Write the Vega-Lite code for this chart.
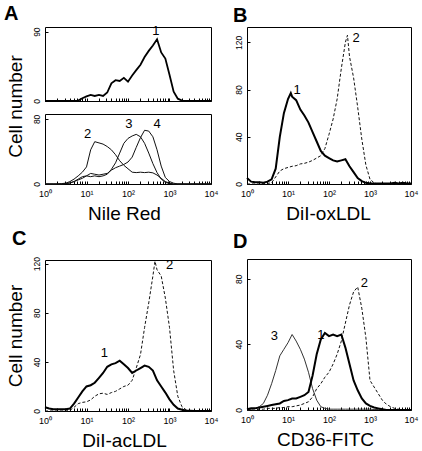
{
"$schema": "https://vega.github.io/schema/vega-lite/v6.json",
"padding": {"left": 3, "top": 3, "right": 0, "bottom": 0},
"autosize": {"type": "pad"},
"spacing": 13,
"datasets": {
"curves": [
{"x":1,"a1":0,"a2":0,"a3":0,"a4":0,"b1":5,"b2":0,"c1":3,"c2":0,"d1":0.5,"d2":0,"d3":0},
{"x":1.26,"a1":0,"a2":0,"a3":0,"a4":0,"b1":2,"b2":0,"c1":2,"c2":0,"d1":1,"d2":0,"d3":0.5},
{"x":1.58,"a1":0,"a2":0,"a3":0,"a4":0,"b1":1.5,"b2":0,"c1":1.5,"c2":0,"d1":1,"d2":0,"d3":1},
{"x":2,"a1":0,"a2":0,"a3":0,"a4":0,"b1":1.5,"b2":0,"c1":1.5,"c2":0,"d1":1.5,"d2":0.5,"d3":2},
{"x":2.51,"a1":0,"a2":0.5,"a3":0,"a4":0,"b1":1,"b2":0.3,"c1":1.5,"c2":0,"d1":2,"d2":0.5,"d3":4},
{"x":3.16,"a1":0,"a2":1,"a3":0.5,"a4":0.5,"b1":2,"b2":0.5,"c1":1.5,"c2":0,"d1":2.5,"d2":1,"d3":9},
{"x":3.98,"a1":0,"a2":3,"a3":1,"a4":1.5,"b1":4,"b2":1,"c1":2,"c2":0.5,"d1":3,"d2":1,"d3":16},
{"x":5.01,"a1":0,"a2":6,"a3":3,"a4":3,"b1":13,"b2":6,"c1":6,"c2":3,"d1":3.5,"d2":1,"d3":24},
{"x":6.31,"a1":0.5,"a2":10,"a3":6,"a4":5,"b1":40,"b2":11,"c1":11,"c2":6,"d1":4,"d2":1.5,"d3":33},
{"x":7.94,"a1":3.5,"a2":14.5,"a3":9,"a4":7,"b1":60,"b2":13,"c1":16,"c2":7,"d1":5.5,"d2":1.5,"d3":37},
{"x":10,"a1":6,"a2":21,"a3":10,"a4":10,"b1":72,"b2":14,"c1":20,"c2":7.5,"d1":6,"d2":2,"d3":41},
{"x":11.7,"b1":77},
{"x":12.6,"a1":8,"a2":42,"a3":9,"a4":13,"b1":74,"b2":15,"c1":21,"c2":9,"d1":7,"d2":2,"d3":46},
{"x":15.8,"a1":6.5,"a2":52,"a3":10,"a4":12,"b1":71,"b2":15.5,"c1":23,"c2":12,"d1":7,"d2":2.5,"d3":42},
{"x":20,"a1":8,"a2":50.5,"a3":9,"a4":11,"b1":63,"b2":17,"c1":27,"c2":14,"d1":8,"d2":3,"d3":37},
{"x":25.1,"a1":6.5,"a2":49,"a3":10,"a4":12,"b1":58,"b2":17.5,"c1":31,"c2":14.5,"d1":9,"d2":4,"d3":31},
{"x":31.6,"a1":11,"a2":46,"a3":12,"a4":13,"b1":52,"b2":18.5,"c1":36,"c2":13.5,"d1":11,"d2":5,"d3":23},
{"x":39.8,"a1":23,"a2":42,"a3":18,"a4":17,"b1":44,"b2":20,"c1":38,"c2":15,"d1":21,"d2":8,"d3":13},
{"x":50.1,"a1":27,"a2":36,"a3":26,"a4":20,"b1":36,"b2":22,"c1":39,"c2":16,"d1":34,"d2":13,"d3":6},
{"x":63.1,"a1":26,"a2":28.6,"a3":38,"a4":22,"b1":28,"b2":24,"c1":41,"c2":18,"d1":43,"d2":16,"d3":2},
{"x":79.4,"a1":30,"a2":23,"a3":50,"a4":24,"b1":24,"b2":30,"c1":38,"c2":20,"d1":47,"d2":20,"d3":1},
{"x":100,"a1":25,"a2":18.7,"a3":56,"a4":27,"b1":22,"b2":42,"c1":35,"c2":21,"d1":45,"d2":23,"d3":0.5},
{"x":126,"a1":33,"a2":14.5,"a3":59,"a4":33,"b1":20,"b2":55,"c1":31,"c2":25,"d1":46,"d2":28,"d3":0.5},
{"x":158,"a1":40,"a2":14,"a3":61,"a4":45,"b1":19,"b2":72,"c1":33,"c2":35,"d1":45,"d2":34,"d3":0.5},
{"x":200,"a1":47,"a2":14.5,"a3":58,"a4":57,"b1":20,"b2":98,"c1":35,"c2":46,"d1":46,"d2":42,"d3":0.5},
{"x":251,"a1":57,"a2":14,"a3":50,"a4":66,"b1":21,"b2":120,"c1":37,"c2":68,"d1":38,"d2":53,"d3":0.5},
{"x":282,"b2":126},
{"x":316,"a1":65,"a2":14.5,"a3":38,"a4":65,"b1":15,"b2":108,"c1":36,"c2":88,"d1":28,"d2":64,"d3":0.5},
{"x":398,"a1":72,"a2":13.7,"a3":25,"a4":58,"b1":10,"b2":90,"c1":33,"c2":110,"d1":18,"d2":72,"d3":0.5},
{"x":447,"c2":122},
{"x":501,"a1":80,"a2":11,"a3":14,"a4":42,"b1":5,"b2":65,"c1":25,"c2":115,"d1":12,"d2":75,"d3":0.5},
{"x":631,"a1":63,"a2":7,"a3":6,"a4":22,"b1":2.5,"b2":38,"c1":20,"c2":110,"d1":7,"d2":62,"d3":0.5},
{"x":794,"a1":55,"a2":3,"a3":2,"a4":8,"b1":1,"b2":16,"c1":15,"c2":92,"d1":4,"d2":44,"d3":0.5},
{"x":1000,"a1":34,"a2":1,"a3":0.5,"a4":3,"b1":0.5,"b2":4,"c1":9.5,"c2":68,"d1":2.5,"d2":18,"d3":0.5},
{"x":1259,"a1":12,"a2":0,"a3":0,"a4":1,"b1":0.5,"b2":1,"c1":5,"c2":33,"d1":1.5,"d2":14,"d3":0.3},
{"x":1585,"a1":3,"a2":0,"a3":0,"a4":0,"b1":0.5,"b2":0,"c1":2,"c2":12,"d1":1,"d2":10,"d3":0.3},
{"x":1995,"a1":0.5,"a2":0,"a3":0,"a4":0,"b1":0.5,"b2":0,"c1":1,"c2":3.5,"d1":0.5,"d2":6,"d3":0.3},
{"x":2512,"a1":0,"a2":0,"a3":0,"a4":0,"b1":0.5,"b2":0,"c1":0.5,"c2":1,"d1":0,"d2":3.5,"d3":0},
{"x":3162,"a1":0,"a2":0,"a3":0,"a4":0,"b1":0.5,"b2":0,"c1":0.3,"c2":0,"d1":0,"d2":2,"d3":0},
{"x":3981,"a1":0,"a2":0,"a3":0,"a4":0,"b1":1,"b2":0,"c1":0,"c2":0,"d1":0,"d2":1,"d3":0},
{"x":5012,"a1":0,"a2":0,"a3":0,"a4":0,"b1":0.5,"b2":0,"c1":0,"c2":0,"d1":0,"d2":0.5,"d3":0},
{"x":6310,"a1":0,"a2":0,"a3":0,"a4":0,"b1":1,"b2":0,"c1":0,"c2":0,"d1":0,"d2":0,"d3":0},
{"x":7943,"a1":0,"a2":0,"a3":0,"a4":0,"b1":0.5,"b2":0,"c1":0,"c2":0,"d1":0,"d2":0,"d3":0},
{"x":10000,"a1":0,"a2":0,"a3":0,"a4":0,"b1":0.5,"b2":0,"c1":0,"c2":0,"d1":0,"d2":0,"d3":0}
],
"labels": [
{"p":"A1","x":468,"y":91,"t":"1"},
{"p":"A2","x":10.7,"y":61,"t":"2"},
{"p":"A2","x":105,"y":74,"t":"3"},
{"p":"A2","x":501,"y":74,"t":"4"},
{"p":"B","x":16.6,"y":80,"t":"1"},
{"p":"B","x":457,"y":124,"t":"2"},
{"p":"C","x":26.9,"y":47,"t":"1"},
{"p":"C","x":1000,"y":119,"t":"2"},
{"p":"D","x":4.68,"y":45,"t":"3"},
{"p":"D","x":63,"y":46,"t":"1"},
{"p":"D","x":724,"y":77.5,"t":"2"}
]
},
"hconcat": [
{"vconcat": [
  {"vconcat": [
    {"width": 166, "height": 74,
     "title": {"text": "A", "anchor": "start", "frame": "group", "dx": -41, "offset": -15, "baseline": "alphabetic", "fontSize": 20, "fontWeight": "bold", "font": "Liberation Sans", "color": "black"},
     "layer": [
      {"data": {"name": "curves"}, "transform": [{"filter": "isValid(datum.a1)"}],
       "mark": {"type": "line", "color": "black", "strokeWidth": 1.8},
       "encoding": {
        "x": {"field": "x", "type": "quantitative", "scale": {"type": "log", "domain": [1, 10000], "nice": false},
              "axis": {"values": [1,2,3,4,5,6,7,8,9,10,20,30,40,50,60,70,80,90,100,200,300,400,500,600,700,800,900,1000,2000,3000,4000,5000,6000,7000,8000,9000,10000], "labels": false, "title": null}},
        "y": {"field": "a1", "type": "quantitative", "scale": {"domain": [0, 96], "nice": false},
              "axis": {"title": null, "values": [0,5,10,15,20,25,30,35,40,45,50,55,60,65,70,75,80,85,90], "labelExpr": "datum.value == 0 || datum.value == 90 ? datum.label : ''"}}}},
      {"data": {"name": "labels"}, "transform": [{"filter": "datum.p == 'A1'"}],
       "mark": {"type": "text", "fontSize": 13, "font": "Liberation Sans", "color": "black", "align": "center", "baseline": "middle"},
       "encoding": {"x": {"field": "x", "type": "quantitative"}, "y": {"field": "y", "type": "quantitative"}, "text": {"field": "t"}}}
     ]},
    {"width": 166, "height": 70,
     "layer": [
      {"data": {"name": "curves"}, "transform": [{"filter": "isValid(datum.a2)"}],
       "mark": {"type": "line", "color": "#111", "strokeWidth": 1},
       "encoding": {
        "x": {"field": "x", "type": "quantitative", "scale": {"type": "log", "domain": [1, 10000], "nice": false},
              "axis": {"values": [1,2,3,4,5,6,7,8,9,10,20,30,40,50,60,70,80,90,100,200,300,400,500,600,700,800,900,1000,2000,3000,4000,5000,6000,7000,8000,9000,10000],
                       "labelExpr": "datum.value == 1 ? '10⁰' : datum.value == 10 ? '10¹' : datum.value == 100 ? '10²' : datum.value == 1000 ? '10³' : datum.value == 10000 ? '10⁴' : ''",
                       "title": "Nile Red", "titleX": 79, "titleAlign": "center", "titleY": 35.5, "titleBaseline": "alphabetic"}},
        "y": {"field": "a2", "type": "quantitative", "scale": {"domain": [0, 86], "nice": false},
              "axis": {"title": "Cell number", "titleX": -20, "titleY": -8, "titleAlign": "center", "titleBaseline": "bottom", "titleAngle": -90,
                       "values": [0,5,10,15,20,25,30,35,40,45,50,55,60,65,70,75,80], "labelExpr": "datum.value == 0 || datum.value == 80 ? datum.label : ''"}}}},
      {"data": {"name": "curves"}, "transform": [{"filter": "isValid(datum.a3)"}],
       "mark": {"type": "line", "color": "#111", "strokeWidth": 1},
       "encoding": {"x": {"field": "x", "type": "quantitative"}, "y": {"field": "a3", "type": "quantitative"}}},
      {"data": {"name": "curves"}, "transform": [{"filter": "isValid(datum.a4)"}],
       "mark": {"type": "line", "color": "#111", "strokeWidth": 1},
       "encoding": {"x": {"field": "x", "type": "quantitative"}, "y": {"field": "a4", "type": "quantitative"}}},
      {"data": {"name": "labels"}, "transform": [{"filter": "datum.p == 'A2'"}],
       "mark": {"type": "text", "fontSize": 13, "font": "Liberation Sans", "color": "black", "align": "center", "baseline": "middle"},
       "encoding": {"x": {"field": "x", "type": "quantitative"}, "y": {"field": "y", "type": "quantitative"}, "text": {"field": "t"}}}
     ]}
  ], "bounds": "flush", "spacing": 13},
  {"width": 166, "height": 151,
   "title": {"text": "C", "anchor": "start", "frame": "group", "dx": -33, "offset": -8, "baseline": "alphabetic", "fontSize": 20, "fontWeight": "bold", "font": "Liberation Sans", "color": "black"},
   "layer": [
    {"data": {"name": "curves"}, "transform": [{"filter": "isValid(datum.c2)"}],
     "mark": {"type": "line", "color": "#111", "strokeWidth": 1, "strokeDash": [3, 2]},
     "encoding": {
      "x": {"field": "x", "type": "quantitative", "scale": {"type": "log", "domain": [1, 10000], "nice": false},
            "axis": {"values": [1,2,3,4,5,6,7,8,9,10,20,30,40,50,60,70,80,90,100,200,300,400,500,600,700,800,900,1000,2000,3000,4000,5000,6000,7000,8000,9000,10000],
                     "labelExpr": "datum.value == 1 ? '10⁰' : datum.value == 10 ? '10¹' : datum.value == 100 ? '10²' : datum.value == 1000 ? '10³' : datum.value == 10000 ? '10⁴' : ''",
                     "title": "DiI-acLDL", "titleX": 79, "titleAlign": "center", "titleY": 35.5, "titleBaseline": "alphabetic"}},
      "y": {"field": "c2", "type": "quantitative", "scale": {"domain": [0, 123], "nice": false},
            "axis": {"title": "Cell number", "titleX": -20, "titleAlign": "center", "titleBaseline": "bottom", "titleAngle": -90,
                     "values": [0,5,10,15,20,25,30,35,40,45,50,55,60,65,70,75,80,85,90,95,100,105,110,115,120], "labelExpr": "datum.value % 20 == 0 ? datum.label : ''"}}}},
    {"data": {"name": "curves"}, "transform": [{"filter": "isValid(datum.c1)"}],
     "mark": {"type": "line", "color": "black", "strokeWidth": 2},
     "encoding": {"x": {"field": "x", "type": "quantitative"}, "y": {"field": "c1", "type": "quantitative"}}},
    {"data": {"name": "labels"}, "transform": [{"filter": "datum.p == 'C'"}],
     "mark": {"type": "text", "fontSize": 13, "font": "Liberation Sans", "color": "black", "align": "center", "baseline": "middle"},
     "encoding": {"x": {"field": "x", "type": "quantitative"}, "y": {"field": "y", "type": "quantitative"}, "text": {"field": "t"}}}
   ]}
], "spacing": 4},
{"vconcat": [
  {"width": 164, "height": 157,
   "title": {"text": "B", "anchor": "start", "frame": "group", "dx": -14, "offset": -15, "baseline": "alphabetic", "fontSize": 20, "fontWeight": "bold", "font": "Liberation Sans", "color": "black"},
   "layer": [
    {"data": {"name": "curves"}, "transform": [{"filter": "isValid(datum.b2)"}],
     "mark": {"type": "line", "color": "#111", "strokeWidth": 1, "strokeDash": [3, 2]},
     "encoding": {
      "x": {"field": "x", "type": "quantitative", "scale": {"type": "log", "domain": [1, 10000], "nice": false},
            "axis": {"values": [1,2,3,4,5,6,7,8,9,10,20,30,40,50,60,70,80,90,100,200,300,400,500,600,700,800,900,1000,2000,3000,4000,5000,6000,7000,8000,9000,10000],
                     "labelExpr": "datum.value == 1 ? '10⁰' : datum.value == 10 ? '10¹' : datum.value == 100 ? '10²' : datum.value == 1000 ? '10³' : datum.value == 10000 ? '10⁴' : ''",
                     "title": "DiI-oxLDL", "titleX": 81, "titleAlign": "center", "titleY": 35.5, "titleBaseline": "alphabetic"}},
      "y": {"field": "b2", "type": "quantitative", "scale": {"domain": [0, 133], "nice": false},
            "axis": {"title": null, "values": [0,5,10,15,20,25,30,35,40,45,50,55,60,65,70,75,80,85,90,95,100,105,110,115,120,125,130], "labelExpr": "datum.value % 20 == 0 ? datum.label : ''"}}}},
    {"data": {"name": "curves"}, "transform": [{"filter": "isValid(datum.b1)"}],
     "mark": {"type": "line", "color": "black", "strokeWidth": 2},
     "encoding": {"x": {"field": "x", "type": "quantitative"}, "y": {"field": "b1", "type": "quantitative"}}},
    {"data": {"name": "labels"}, "transform": [{"filter": "datum.p == 'B'"}],
     "mark": {"type": "text", "fontSize": 13, "font": "Liberation Sans", "color": "black", "align": "center", "baseline": "middle"},
     "encoding": {"x": {"field": "x", "type": "quantitative"}, "y": {"field": "y", "type": "quantitative"}, "text": {"field": "t"}}}
   ]},
  {"width": 164, "height": 151,
   "title": {"text": "D", "anchor": "start", "frame": "group", "dx": -14, "offset": -9, "baseline": "alphabetic", "fontSize": 20, "fontWeight": "bold", "font": "Liberation Sans", "color": "black"},
   "layer": [
    {"data": {"name": "curves"}, "transform": [{"filter": "isValid(datum.d2)"}],
     "mark": {"type": "line", "color": "#111", "strokeWidth": 1, "strokeDash": [3, 2]},
     "encoding": {
      "x": {"field": "x", "type": "quantitative", "scale": {"type": "log", "domain": [1, 10000], "nice": false},
            "axis": {"values": [1,2,3,4,5,6,7,8,9,10,20,30,40,50,60,70,80,90,100,200,300,400,500,600,700,800,900,1000,2000,3000,4000,5000,6000,7000,8000,9000,10000],
                     "labelExpr": "datum.value == 1 ? '10⁰' : datum.value == 10 ? '10¹' : datum.value == 100 ? '10²' : datum.value == 1000 ? '10³' : datum.value == 10000 ? '10⁴' : ''",
                     "title": "CD36-FITC", "titleX": 78, "titleAlign": "center", "titleY": 35.5, "titleBaseline": "alphabetic"}},
      "y": {"field": "d2", "type": "quantitative", "scale": {"domain": [0, 92], "nice": false},
            "axis": {"title": null, "values": [0,5,10,15,20,25,30,35,40,45,50,55,60,65,70,75,80,85,90], "labelExpr": "datum.value % 10 == 0 ? datum.label : ''"}}}},
    {"data": {"name": "curves"}, "transform": [{"filter": "isValid(datum.d3)"}],
     "mark": {"type": "line", "color": "#333", "strokeWidth": 1},
     "encoding": {"x": {"field": "x", "type": "quantitative"}, "y": {"field": "d3", "type": "quantitative"}}},
    {"data": {"name": "curves"}, "transform": [{"filter": "isValid(datum.d1)"}],
     "mark": {"type": "line", "color": "black", "strokeWidth": 2},
     "encoding": {"x": {"field": "x", "type": "quantitative"}, "y": {"field": "d1", "type": "quantitative"}}},
    {"data": {"name": "labels"}, "transform": [{"filter": "datum.p == 'D'"}],
     "mark": {"type": "text", "fontSize": 13, "font": "Liberation Sans", "color": "black", "align": "center", "baseline": "middle"},
     "encoding": {"x": {"field": "x", "type": "quantitative"}, "y": {"field": "y", "type": "quantitative"}, "text": {"field": "t"}}}
   ]}
], "bounds": "flush", "spacing": 75}
],
"config": {
  "background": "white",
  "view": {"stroke": "black", "strokeWidth": 1},
  "font": "Liberation Sans",
  "axis": {"domain": false, "grid": false, "tickColor": "black", "tickSize": -3, "labelColor": "black", "titleColor": "black",
           "labelFont": "Liberation Sans", "titleFont": "Liberation Sans", "titleFontWeight": "normal", "labelFontSize": 9, "titleFontSize": 19,
           "labelOverlap": false, "labelFlush": false, "labelBound": false},
  "axisX": {"labelPadding": 8.5},
  "axisY": {"labelPadding": 6.5, "labelAngle": -90, "labelAlign": "center", "labelBaseline": "bottom", "labelFontSize": 8.5}
}
}
